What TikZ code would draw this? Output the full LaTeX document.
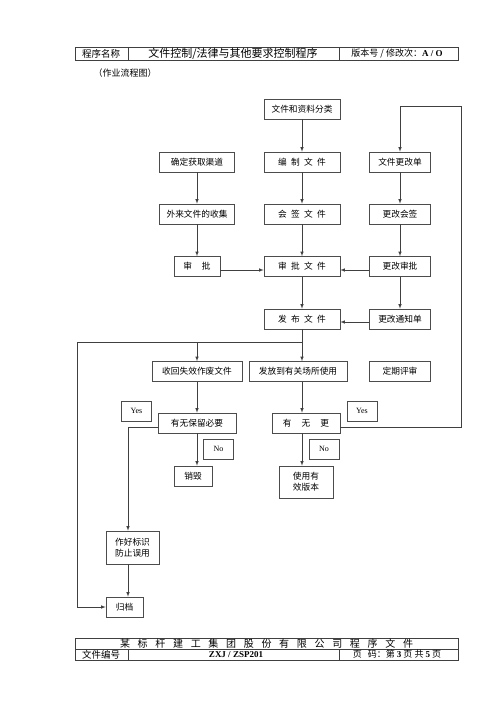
\documentclass[tikz,border=0pt]{standalone}
\usepackage{fontspec}
\setmainfont{Noto Sans CJK SC}
\newfontfamily\latinserif{Liberation Serif}
\usetikzlibrary{positioning,arrows}

\begin{document}
\begin{tikzpicture}[x=1pt,y=-1pt]
 \tikzset{box/.style={draw=black!70,line width=0.6pt,rectangle,minimum height=20pt,inner sep=1pt,font=\fontsize{8.7}{11}\selectfont},
   tag/.style={box,minimum width=30pt,font=\latinserif\fontsize{8}{10}\selectfont},
   arrow/.style={-latex,draw=black!75,line width=0.6pt},
   rule/.style={draw=black!75,line width=0.6pt}}
 \useasboundingbox[fill=white] (0,0) rectangle (500,706);
 % header
 \draw[rule] (75,47) rectangle (458,60) (128,47) -- (128,60) (339,47) -- (339,60);
 \node[font=\fontsize{9.5}{11}\selectfont] (hname) at (101,53.5) {程序名称};
 \node[font=\fontsize{11}{12}\selectfont] (htitle) at (233,53.5) {文件控制/法律与其他要求控制程序};
 \node[font=\fontsize{9}{11}\selectfont] (hver) at (397,53.5) {版本号 / 修改次：{\latinserif\bfseries A / O}};
 \node[font=\fontsize{9}{11}\selectfont] (sub) at (125,73) {（作业流程图）};
 
 \node[box,minimum width=76] (class) at (302,109) {文件和资料分类};
 \node[box,minimum width=75] (channel) at (197,162) {确定获取渠道};
 \node[box,minimum width=76] (edit) at (302,162) {编\enspace 制\enspace 文\enspace 件};
 \node[box,minimum width=61] (change) at (400,162) {文件更改单};
 \node[box,minimum width=75] (collect) at (197,214) {外来文件的收集};
 \node[box,minimum width=76] (sign) at (302,214) {会\enspace 签\enspace 文\enspace 件};
 \node[box,minimum width=61] (changesign) at (400,214) {更改会签};
 \node[box,minimum width=46] (approve) at (197,266.5) {审\hspace{10pt}批};
 \node[box,minimum width=76] (approvefile) at (302,266.5) {审\enspace 批\enspace 文\enspace 件};
 \node[box,minimum width=61] (changeapprove) at (400,266.5) {更改审批};
 \node[box,minimum width=76] (publish) at (302,319) {发\enspace 布\enspace 文\enspace 件};
 \node[box,minimum width=61] (notice) at (400,319) {更改通知单};
 \node[box,minimum width=90] (recall) at (197,371.5) {收回失效作废文件};
 \node[box,minimum width=98] (issue) at (298,371.5) {发放到有关场所使用};
 \node[box,minimum width=61] (review) at (400,371.5) {定期评审};
 \node[box,minimum width=78] (keep) at (197,423) {有无保留必要};
 \node[box,minimum width=68] (ifchange) at (306,423) {有\hspace{10pt}无\hspace{10pt}更};
 \node[tag] (yes1) at (136.5,411) {Yes};
 \node[tag] (yes2) at (362,411) {Yes};
 \node[tag] (no1) at (218.5,449) {No};
 \node[tag] (no2) at (324,449) {No};
 \node[box,minimum width=38] (destroy) at (193,476) {销毁};
 \node[box,minimum width=54,minimum height=32,align=center] (valid) at (306,482) {使用有\\效版本};
 \node[box,minimum width=53,minimum height=33,align=left] (mark) at (132.5,547.5) {作好标识\\防止误用};
 \node[box,minimum width=37] (archive) at (124.5,607) {归档};
 
 \coordinate (split) at (302,342);
 \coordinate (leftTop) at (77,342);
 \coordinate (loopR) at (461,106);
 \coordinate (keepL) at (128,427);
 
 \draw[arrow] (class) -- (edit);
 \draw[arrow] (edit) -- (sign);
 \draw[arrow] (sign) -- (approvefile);
 \draw[arrow] (approvefile) -- (publish);
 \draw[arrow] (channel) -- (collect);
 \draw[arrow] (collect) -- (approve);
 \draw[arrow] (change) -- (changesign);
 \draw[arrow] (changesign) -- (changeapprove);
 \draw[arrow] (changeapprove) -- (notice);
 \draw[arrow] ([yshift=-3.5pt]approve.east) -- ([yshift=-3.5pt]approvefile.west);
 \draw[arrow] ([yshift=-3.5pt]changeapprove.west) -- ([yshift=-3.5pt]approvefile.east);
 \draw[arrow] ([yshift=-3pt]notice.west) -- ([yshift=-3pt]publish.east);
 \draw[arrow] (publish) -- (split) -- (leftTop) |- (archive.west);
 \draw[arrow] (recall.north |- split) -- (recall);
 \draw[arrow] (split) -- (split |- issue.north);
 \draw[arrow] (recall) -- (keep);
 \draw[arrow] (split |- issue.south) -- (split |- ifchange.north);
 \draw[arrow] (keep) -- (keep |- destroy.north);
 \draw[arrow] (split |- ifchange.south) -- (split |- valid.north);
 \draw[arrow] (ifchange.east |- keepL) -| (loopR) -| (change.north);
 \draw[arrow] (keep.west |- keepL) -- (keepL) -- (keepL |- mark.north);
 \draw[arrow] (keepL |- mark.south) -- (keepL |- archive.north);
 
 % footer
 \draw[rule] (75,638) rectangle (458,660) (75,649) -- (458,649) (128,649) -- (128,660) (339,649) -- (339,660);
 \node[font=\fontsize{10}{12}\selectfont,inner sep=0pt] (fcompany) at (266.5,643.5) {\makebox[293pt][s]{某\hfil 标\hfil 杆\hfil 建\hfil 工\hfil 集\hfil 团\hfil 股\hfil 份\hfil 有\hfil 限\hfil 公\hfil 司\hfil 程\hfil 序\hfil 文\hfil 件}};
 \node[font=\fontsize{9.5}{11}\selectfont] (fnum) at (101,654.5) {文件编号};
 \node[font=\latinserif\bfseries\fontsize{9}{11}\selectfont] (fcode) at (236,654.5) {ZXJ / ZSP201};
 \node[font=\fontsize{9}{11}\selectfont] (fpage) at (397,654.5) {页\hspace{6pt}码：第 {\latinserif\bfseries 3} 页 共 {\latinserif\bfseries 5} 页};
\end{tikzpicture}
\end{document}
